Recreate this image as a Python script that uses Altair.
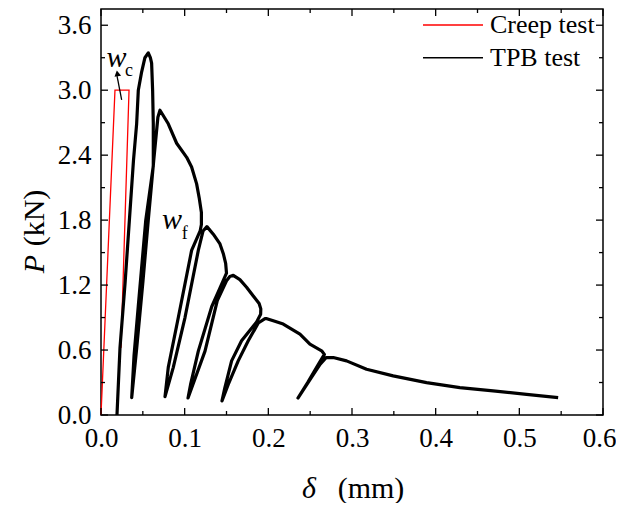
import altair as alt
import pandas as pd

# ---------------- data ----------------
tpb_x = [0.0191, 0.0227, 0.0287, 0.0388, 0.0426, 0.0446, 0.0486, 0.0525, 0.0565,
         0.0590, 0.0605, 0.0617, 0.0625, 0.0625,
         0.0535, 0.0445, 0.0395, 0.0367,
         0.0427, 0.0502, 0.0565, 0.0630, 0.0680, 0.0705,
         0.0804, 0.0904, 0.1024, 0.1083, 0.1143, 0.1175, 0.1200, 0.1200, 0.1185,
         0.1083, 0.0924, 0.0804, 0.0765,
         0.0864, 0.1004, 0.1163, 0.1220, 0.1266,
         0.1342, 0.1422, 0.1462, 0.1490, 0.1500,
         0.1420, 0.1323, 0.1163, 0.1070, 0.1040,
         0.1243, 0.1390, 0.1500, 0.1540, 0.1581,
         0.1660, 0.1740, 0.1820, 0.1890, 0.1910, 0.1908,
         0.1860, 0.1680, 0.1561, 0.1480, 0.1446,
         0.1520, 0.1640, 0.1760, 0.1880, 0.1960, 0.1983,
         0.2059, 0.2178, 0.2378, 0.2497, 0.2637, 0.2670,
         0.2600, 0.2470, 0.2354,
         0.2500, 0.2620, 0.2690, 0.2776,
         0.2935, 0.3174, 0.3492, 0.3891, 0.4289, 0.4687, 0.5086, 0.5464]
tpb_y = [0.0, 0.62, 1.21, 2.35, 2.69, 3.00, 3.17, 3.30, 3.345,
         3.30, 3.25, 3.00, 2.69, 2.30,
         1.80, 1.00, 0.55, 0.16,
         0.62, 1.24, 1.80, 2.35, 2.75, 2.815,
         2.69, 2.51, 2.38, 2.29, 2.135, 2.00, 1.87, 1.76, 1.70,
         1.52, 0.90, 0.44, 0.17,
         0.44, 0.90, 1.52, 1.70, 1.74,
         1.67, 1.58, 1.49, 1.40, 1.31,
         1.17, 1.00, 0.59, 0.28, 0.157,
         0.59, 1.056, 1.24, 1.28, 1.29,
         1.25, 1.18, 1.10, 1.03, 0.98, 0.93,
         0.86, 0.685, 0.50, 0.25, 0.13,
         0.28, 0.50, 0.685, 0.85, 0.89, 0.89,
         0.87, 0.84, 0.747, 0.654, 0.593, 0.56,
         0.47, 0.30, 0.157,
         0.33, 0.47, 0.53, 0.531,
         0.50, 0.423, 0.361, 0.299, 0.253, 0.222, 0.191, 0.160]

creep_x = [0.0, 0.0167, 0.0335, 0.0239]
creep_y = [0.0, 3.0, 3.0, 0.62]

x_major = [0.0, 0.1, 0.2, 0.3, 0.4, 0.5, 0.6]
x_minor = [0.05, 0.15, 0.25, 0.35, 0.45, 0.55]
y_major = [0.0, 0.6, 1.2, 1.8, 2.4, 3.0, 3.6]
y_minor = [0.3, 0.9, 1.5, 2.1, 2.7, 3.3]

legend_labels = ["Creep test", "TPB test"]
legend_colors = ["red", "black"]

# annotation text (label, subscript) and their anchor positions in data units
wc_main = {"t": "w", "x": 0.0185, "y": 3.21}
wc_sub = {"t": "c", "x": 0.0335, "y": 3.13}
wf_main = {"t": "w", "x": 0.0850, "y": 1.722}
wf_sub = {"t": "f", "x": 0.1000, "y": 1.63}
arrow_x = [0.0247, 0.0192]
arrow_y = [2.91, 3.13]
arrow_head = {"x": 0.0195, "y": 3.155}

# ---------------- chart ----------------
W, H = 502, 406
FONT = "Liberation Serif"

xs = alt.Scale(domain=[0, 0.6], nice=False, zero=False)
ys = alt.Scale(domain=[0, 3.75], nice=False, zero=False)

tpb = pd.DataFrame({"x": tpb_x, "y": tpb_y, "i": range(len(tpb_x))})
creep = pd.DataFrame({"x": creep_x, "y": creep_y, "i": range(len(creep_x))})

x_axis = alt.Axis(values=x_major, format=".1f", ticks=False, domain=False, grid=False,
                  labelFont=FONT, labelFontSize=27, labelColor="black",
                  labelPadding=10, labelFlush=False, title=None,
                  labelOffset={"condition": {"test": "datum.value > 0.59", "value": -4},
                               "value": 0})
y_axis = alt.Axis(values=y_major, format=".1f", ticks=False, domain=False, grid=False,
                  labelFont=FONT, labelFontSize=27, labelColor="black",
                  labelPadding=10, labelFlush=False, title=None)


def X(field):
    return alt.X(field, scale=xs, axis=x_axis)


def Y(field):
    return alt.Y(field, scale=ys, axis=y_axis)


creep_line = alt.Chart(creep).mark_line(color="red", strokeWidth=1.3).encode(
    x=X("x:Q"), y=Y("y:Q"), order="i:Q",
)
tpb_line = alt.Chart(tpb).mark_line(color="black", strokeWidth=3.2, strokeJoin="round").encode(
    x=X("x:Q"), y=Y("y:Q"), order="i:Q",
)

layers = [creep_line, tpb_line]


# inward ticks on all four sides
def xticks(vals, length):
    df = pd.DataFrame({"v": vals})
    bottom = alt.Chart(df).mark_rule(color="black", strokeWidth=1.3).encode(
        x=X("v:Q"), y=alt.value(H), y2=alt.value(H - length))
    top = alt.Chart(df).mark_rule(color="black", strokeWidth=1.3).encode(
        x=X("v:Q"), y=alt.value(0), y2=alt.value(length))
    return [bottom, top]


def yticks(vals, length):
    df = pd.DataFrame({"v": vals})
    left = alt.Chart(df).mark_rule(color="black", strokeWidth=1.3).encode(
        y=Y("v:Q"), x=alt.value(0), x2=alt.value(length))
    right = alt.Chart(df).mark_rule(color="black", strokeWidth=1.3).encode(
        y=Y("v:Q"), x=alt.value(W), x2=alt.value(W - length))
    return [left, right]


layers += xticks(x_major, 7) + xticks(x_minor, 4) + yticks(y_major, 7) + yticks(y_minor, 4)


# annotations
def ann(d, size, italic):
    return alt.Chart(pd.DataFrame([d])).mark_text(
        font=FONT, fontSize=size, fontStyle="italic" if italic else "normal",
        align="center", baseline="alphabetic", color="black").encode(
        x=X("x:Q"), y=Y("y:Q"), text="t:N")


layers += [ann(wc_main, 30, True), ann(wc_sub, 18, False),
           ann(wf_main, 30, True), ann(wf_sub, 18, False)]

arrow = pd.DataFrame({"x": arrow_x, "y": arrow_y, "i": [0, 1]})
layers.append(alt.Chart(arrow).mark_line(color="black", strokeWidth=1.3).encode(
    x=X("x:Q"), y=Y("y:Q"), order="i:Q"))
layers.append(alt.Chart(pd.DataFrame([arrow_head])).mark_point(
    shape="triangle-up", filled=True, color="black", size=45, angle=350, opacity=1).encode(
    x=X("x:Q"), y=Y("y:Q")))

# legend (manual)
for k, (lab, col) in enumerate(zip(legend_labels, legend_colors)):
    yy = 16 + k * 32.7
    one = pd.DataFrame({"t": [lab]})
    layers.append(alt.Chart(one).mark_rule(color=col, strokeWidth=1.5).encode(
        x=alt.value(322), x2=alt.value(382), y=alt.value(yy)))
    layers.append(alt.Chart(one).mark_text(
        font=FONT, fontSize=26, align="left", baseline="middle", color="black").encode(
        x=alt.value(389), y=alt.value(yy), text="t:N"))

# axis titles as text (mixed italic / upright)
ytitle_parts = ["P", "(kN)"]
xtitle_parts = ["δ", "(mm)"]
one = pd.DataFrame({"a": [0]})
layers.append(alt.Chart(one).mark_text(
    text=ytitle_parts[0], font=FONT, fontSize=30, fontStyle="italic", angle=270,
    align="center", baseline="alphabetic", color="black").encode(
    x=alt.value(-57), y=alt.value(255)))
layers.append(alt.Chart(one).mark_text(
    text=ytitle_parts[1], font=FONT, fontSize=30, angle=270,
    align="center", baseline="alphabetic", color="black").encode(
    x=alt.value(-57), y=alt.value(209)))
layers.append(alt.Chart(one).mark_text(
    text=xtitle_parts[0], font=FONT, fontSize=30, fontStyle="italic",
    align="center", baseline="alphabetic", color="black").encode(
    x=alt.value(208), y=alt.value(489)))
layers.append(alt.Chart(one).mark_text(
    text=xtitle_parts[1], font=FONT, fontSize=30,
    align="center", baseline="alphabetic", color="black").encode(
    x=alt.value(270), y=alt.value(489)))

chart = alt.layer(*layers).properties(
    width=W, height=H,
    autosize=alt.AutoSizeParams(type="none"),
    padding={"left": 93, "top": 1, "right": 13, "bottom": 88},
    background="white",
).configure_view(stroke="black", strokeWidth=1.5)

chart.save("out.html", embed_options={"renderer": "svg", "actions": False})
